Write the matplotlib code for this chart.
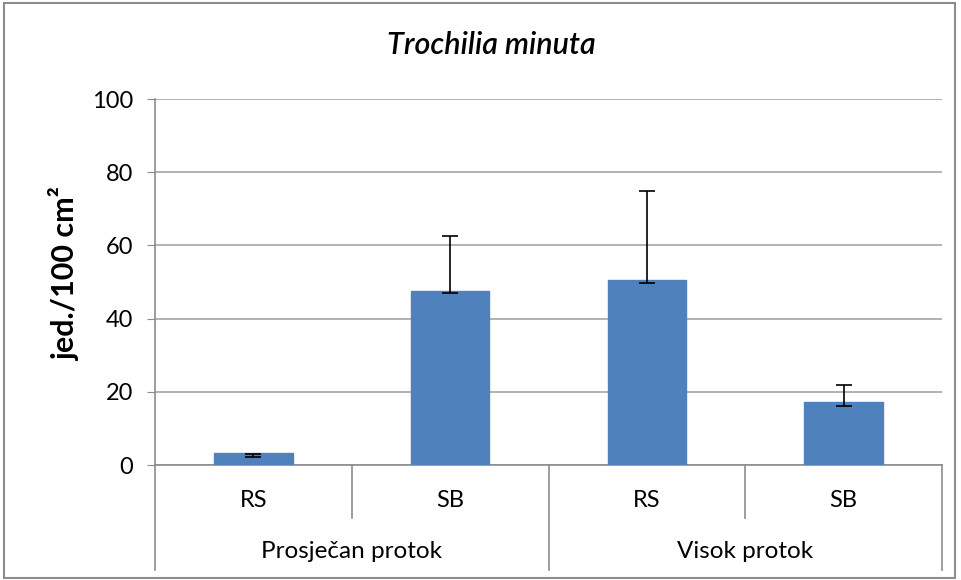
import matplotlib
matplotlib.use("Agg")
import matplotlib.pyplot as plt
from matplotlib.patches import Rectangle
from matplotlib import font_manager

fams = {f.name for f in font_manager.fontManager.ttflist}
base = 'Liberation Sans Narrow' if 'Liberation Sans Narrow' in fams else 'Lato'
plt.rcParams['font.family'] = [base, 'DejaVu Sans']

# Data
categories = ["RS", "SB", "RS", "SB"]
groups = ["Prosječan protok", "Visok protok"]
values = [3.3, 47.6, 50.5, 17.1]
err_low = [2.3, 46.9, 49.6, 16.1]
err_high = [3.0, 62.7, 74.8, 21.9]
yticks = [0, 20, 40, 60, 80, 100]

W, H = 961, 580
fig = plt.figure(figsize=(W / 100, H / 100), dpi=100)
fig.patch.set_facecolor('white')
fig.patches.append(Rectangle((4 / W, 2 / H), 951 / W, 575 / H, transform=fig.transFigure,
                             fill=False, edgecolor='#8c8c8c', linewidth=1.5))

x0, x1, y0, y1 = 155, 942, 465, 99
ax = fig.add_axes([x0 / W, 1 - y0 / H, (x1 - x0) / W, (y0 - y1) / H])
xs = list(range(len(values)))
ax.bar(xs, values, width=0.4, color='#4F81BD', edgecolor='#4F81BD', zorder=3)
centers = [(lo + hi) / 2 for lo, hi in zip(err_low, err_high)]
half = [(hi - lo) / 2 for lo, hi in zip(err_low, err_high)]
ax.errorbar(xs, centers, yerr=half, fmt='none', ecolor='black', elinewidth=1.2,
            capsize=6, capthick=1.2, zorder=4)

ax.set_xlim(-0.5, len(values) - 0.5)
ax.set_ylim(0, 100)
ax.set_yticks(yticks)
ax.set_yticklabels([str(t) for t in yticks], fontsize=17)
ax.yaxis.grid(True, color='#a6a6a6', linewidth=1.2, zorder=0)
ax.set_axisbelow(True)
for s in ['top', 'right']:
    ax.spines[s].set_visible(False)
ax.spines['left'].set_color('#8c8c8c')
ax.spines['bottom'].set_color('#8c8c8c')
ax.spines['left'].set_linewidth(1.2)
ax.spines['bottom'].set_linewidth(1.2)
ax.tick_params(axis='y', length=6, color='#8c8c8c', pad=10)
ax.set_xticks([])

fig.text(65 / W, 1 - 274 / H, "jed./100 cm²", fontsize=22, fontweight='bold',
         rotation=90, ha='center', va='center')
fig.text(491 / W, 1 - 45 / H, "Trochilia minuta", fontsize=22, fontstyle='italic',
         fontweight='semibold', ha='center', va='center')

tr = ax.get_xaxis_transform()
lc = '#8c8c8c'
# category separators
for b in [0.5, 2.5]:
    ax.plot([b, b], [0, -0.145], transform=tr, color=lc, lw=1.2, clip_on=False)
for b in [-0.5, 1.5, 3.5]:
    ax.plot([b, b], [0, -0.287], transform=tr, color=lc, lw=1.2, clip_on=False)
for x, c in zip(xs, categories):
    ax.text(x, -0.096, c, transform=tr, ha='center', va='center', fontsize=17)
for i, g in enumerate(groups):
    ax.text(2 * i + 0.5, -0.235, g, transform=tr, ha='center', va='center', fontsize=17.5)

fig.savefig("out.png", dpi=100)
